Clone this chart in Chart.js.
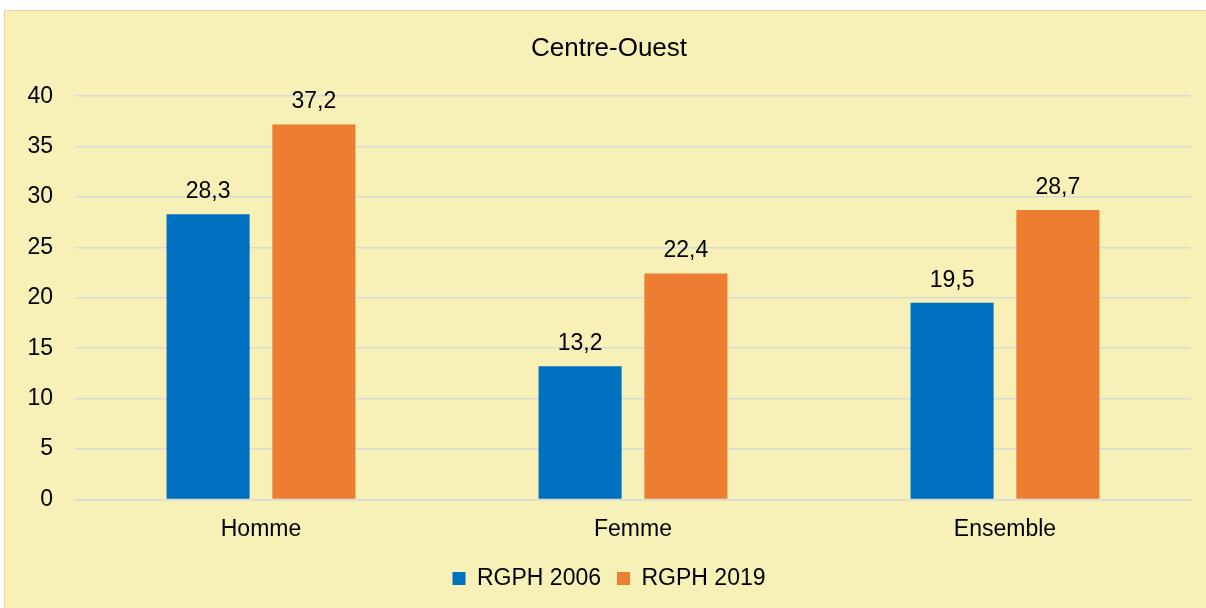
<!DOCTYPE html>
<html>
<head>
<meta charset="utf-8">
<script src="https://cdn.jsdelivr.net/npm/chart.js@4.4.1/dist/chart.umd.min.js"></script>
<style>
  html, body { margin: 0; padding: 0; background: #fff; overflow: hidden; }
  #panel {
    position: absolute; left: 4px; top: 10px; width: 1210px; height: 606px;
    background: #F7F0B7; border: 1px solid #F8CBAD; box-sizing: border-box;
  }
  #wrap { position: absolute; left: 0; top: 0; width: 1201px; height: 598px; }
</style>
</head>
<body>
<div id="panel"><div id="wrap"><canvas id="chart"></canvas></div></div>
<script>
const categories = ['Homme', 'Femme', 'Ensemble'];
const rgph2006 = [28.3, 13.2, 19.5];
const rgph2019 = [37.2, 22.4, 28.7];
const yTicks = [0, 5, 10, 15, 20, 25, 30, 35, 40];

// étiquettes de valeurs au-dessus des barres
const valueLabels = {
    id: 'valueLabels',
    afterDatasetsDraw(chart) {
        const ctx = chart.ctx;
        ctx.save();
        ctx.font = '23px "Liberation Sans", Arial, sans-serif';
        ctx.fillStyle = '#000';
        ctx.textAlign = 'center';
        ctx.textBaseline = 'bottom';
        chart.data.datasets.forEach((ds, i) => {
            chart.getDatasetMeta(i).data.forEach((bar, j) => {
                ctx.fillText(ds.data[j].toFixed(1).replace('.', ','), bar.x, bar.y - 11);
            });
        });
        ctx.restore();
    }
};

Chart.defaults.font.family = '"Liberation Sans", Arial, sans-serif';
Chart.defaults.font.size = 23;
Chart.defaults.color = '#000';

new Chart(document.getElementById('chart'), {
    type: 'bar',
    data: {
        labels: categories,
        datasets: [
            { label: 'RGPH 2006', data: rgph2006, backgroundColor: '#0070C0' },
            { label: 'RGPH 2019', data: rgph2019, backgroundColor: '#ED7D31' }
        ]
    },
    options: {
        responsive: true,
        maintainAspectRatio: false,
        animation: false,
        categoryPercentage: 0.569,
        barPercentage: 0.785,
        layout: { padding: { left: 22, right: 15, top: 22, bottom: 9 } },
        plugins: {
            title: { display: true, text: 'Centre-Ouest', font: { size: 26, weight: 'normal' }, color: '#000', padding: { top: 0, bottom: 32 } },
            legend: {
                position: 'bottom',
                labels: { boxWidth: 13, boxHeight: 13, padding: 16, font: { size: 23 } }
            },
            tooltip: { enabled: false }
        },
        scales: {
            x: {
                grid: { display: false },
                border: { color: '#D9D9D9', width: 1.5 },
                ticks: { padding: 8 }
            },
            y: {
                min: 0, max: 40,
                afterBuildTicks: axis => { axis.ticks = yTicks.map(v => ({ value: v })); },
                afterFit: axis => { axis.width = 48; },
                grid: { color: '#D9D9D9', lineWidth: 1.5, drawTicks: false },
                border: { display: false },
                ticks: { padding: 22 }
            }
        }
    },
    plugins: [valueLabels]
});
</script>
</body>
</html>
